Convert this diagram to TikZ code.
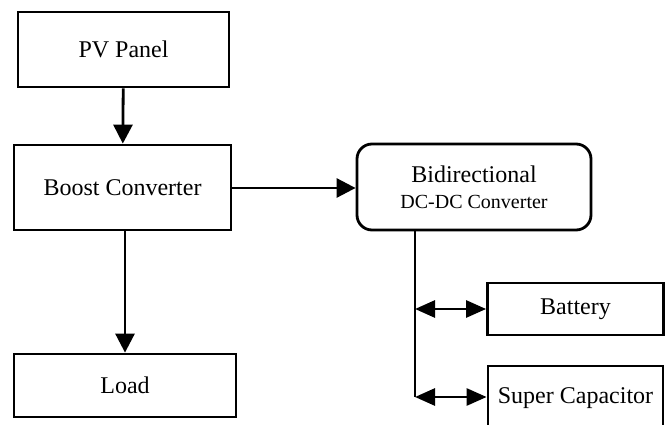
\documentclass[tikz,border=0pt]{standalone}
\usepackage{fontspec}
\setmainfont{Liberation Serif}
\usetikzlibrary{arrows.meta}
\tikzset{
  block/.style={draw, line width=2.8pt, inner sep=0pt, font=\fontsize{24}{26}\selectfont},
  roundblock/.style={block, rounded corners=15pt},
  link/.style={line width=2.8pt},
  flow/.style={link, -{Triangle[length=19pt,width=19pt]}},
  both/.style={link, {Triangle[length=20pt,width=17pt]}-{Triangle[length=20pt,width=17pt]}},
}
\begin{document}
\begin{tikzpicture}[x=1pt, y=-1pt]
\useasboundingbox (0,0) rectangle (667,425);

% source side
\node[block, minimum width=211pt, minimum height=75pt] (pv) at (123.5,49.5) {PV Panel};
\node[block, minimum width=217pt, minimum height=85pt] (boost) at (122.5,187.5) {Boost Converter};
\node[block, minimum width=222pt, minimum height=63pt] (load) at (125,385.5) {Load};

% storage side
\node[roundblock, minimum width=234pt, minimum height=86pt, align=center] (bidir) at (474,187)
  {\fontsize{24}{22}\selectfont Bidirectional\\\fontsize{20}{22}\selectfont DC-DC Converter};
\node[block, minimum width=176pt, minimum height=52pt] (bat) at (575.5,309) {Battery};
\node[block, minimum width=175pt, minimum height=64pt] (sc) at (575.5,398) {Super Capacitor};

% storage bus
\coordinate (bustop) at (415,230);
\coordinate (busbat) at (415,309);
\coordinate (bussc) at (415,397);

\draw[flow] (pv) -- (boost);
\draw[flow] (boost.south -| load.north) -- (load.north);
\draw[flow] (boost.east |- 0,188) -- (bidir.west |- 0,188);
\draw[link] (bustop) -- (bussc);
\draw[both] (busbat) -- (bat.west);
\draw[both] (bussc) -- (bussc -| sc.west);
\end{tikzpicture}
\end{document}
